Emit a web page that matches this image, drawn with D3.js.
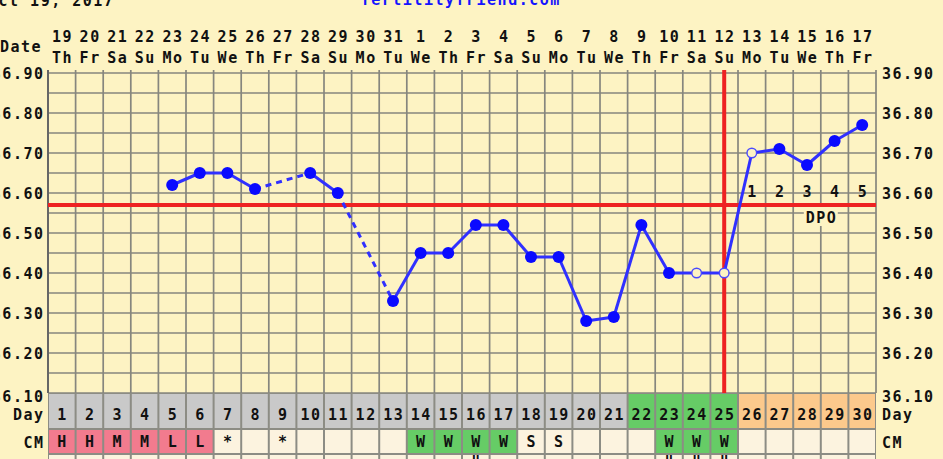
<!DOCTYPE html>
<html><head><meta charset="utf-8">
<script src="https://cdn.jsdelivr.net/npm/d3@7/dist/d3.min.js"></script>
<style>
html,body{margin:0;padding:0;background:#fdf3c3;overflow:hidden}
svg{display:block}
text{font-family:"DejaVu Sans Mono",monospace;font-weight:bold;}
</style></head>
<body><svg id="c" width="943" height="459"></svg>
<script>
// ---- data ----
const titleLeft = "Oct 19, 2017";
const titleCenter = "fertilityfriend.com";
const dates = ["19","20","21","22","23","24","25","26","27","28","29","30","31","1","2","3","4","5","6","7","8","9","10","11","12","13","14","15","16","17"];
const weekdays = ["Th","Fr","Sa","Su","Mo","Tu","We","Th","Fr","Sa","Su","Mo","Tu","We","Th","Fr","Sa","Su","Mo","Tu","We","Th","Fr","Sa","Su","Mo","Tu","We","Th","Fr"];
const cycleDays = d3.range(1, 31);
const temps = [null,null,null,null,36.62,36.65,36.65,36.61,null,36.65,36.60,null,36.33,36.45,36.45,36.52,36.52,36.44,36.44,36.28,36.29,36.52,36.40,36.40,36.40,36.70,36.71,36.67,36.73,36.77];
const openDays = [24,25,26];
const tempTicks = [36.10,36.20,36.30,36.40,36.50,36.60,36.70,36.80,36.90];
const coverline = 36.57;
const ovulationDay = 25;
const dayPhase = ["g","g","g","g","g","g","g","g","g","g","g","g","g","g","g","g","g","g","g","g","g","f","f","f","f","l","l","l","l","l"];
const cm = ["H","H","M","M","L","L","*","","*","","","","","W","W","W","W","S","S","","","","W","W","W","","","","",""];
const extraRow = ["","","","","","","","","","","","","","","","\"","","","","","","","\"","\"","\"","","","","",""];
const dpoLabels = ["1","2","3","4","5"];
const dpoStart = 26;

// ---- layout ----
const L = 48, R = 876, T = 73, B = 393;
const svg = d3.select("#c");
const bg = "#fdf3c3";
const x = d3.scaleLinear().domain([0.5, 30.5]).range([L, R]);
const y = d3.scaleLinear().domain([36.10, 36.90]).range([B, T]);
const colW = x(2) - x(1);
const ink = "#111";
const fs = 15, ls = 1.5;

function txt(g, s, px, py, anchor, color){
  const off = anchor === "end" ? ls : (anchor === "start" ? 0 : ls/2);
  return g.append("text").attr("x", px + off).attr("y", py).attr("text-anchor", anchor||"middle")
    .attr("font-size", fs).attr("letter-spacing", ls).attr("fill", color||ink).text(s);
}

// titles
txt(svg, titleLeft, -12, 6, "start");
txt(svg, titleCenter, 460, 5, "middle", "#1414ff");

// header
txt(svg, "Date", 0, 52, "start");
cycleDays.forEach((d,i)=>{
  txt(svg, dates[i], x(d), 42);
  txt(svg, weekdays[i], x(d), 63);
});

// grid
const grid = svg.append("g").attr("stroke", "#86867e").attr("stroke-width", 1.7);
const hLines = d3.range(0, 17).map(k => 36.10 + k*0.05);
grid.selectAll("line.h").data(hLines).join("line")
  .attr("x1", L).attr("x2", R).attr("y1", d=>y(d)).attr("y2", d=>y(d));
grid.selectAll("line.v").data(d3.range(0, 31)).join("line")
  .attr("x1", d=>x(d+0.5)).attr("x2", d=>x(d+0.5)).attr("y1", T-3).attr("y2", B);
svg.append("line").attr("x1", L).attr("x2", L).attr("y1", T-3).attr("y2", B)
  .attr("stroke", "#666").attr("stroke-width", 2);

// axis labels
tempTicks.forEach(t=>{
  const yy = y(t) + 5.5 + (t===36.10 ? 3 : 0);
  txt(svg, t.toFixed(2), 43, yy, "end");
  txt(svg, t.toFixed(2), 882, yy, "start");
});

// coverline & ovulation line
svg.append("line").attr("x1", L).attr("x2", R).attr("y1", y(coverline)).attr("y2", y(coverline))
  .attr("stroke", "#ee2222").attr("stroke-width", 4);
svg.append("line").attr("x1", x(ovulationDay)).attr("x2", x(ovulationDay)).attr("y1", T-3).attr("y2", B)
  .attr("stroke", "#ee2222").attr("stroke-width", 4);

// DPO labels
dpoLabels.forEach((s,i)=> txt(svg, s, x(dpoStart+i), 197));
svg.append("rect").attr("x", x(28.5)-17).attr("y", y(coverline)+2).attr("width", 34).attr("height", 19).attr("fill", bg);
txt(svg, "DPO", x(28.5), 223);

// temperature line
const pts = cycleDays.map((d,i)=>({d, t: temps[i]})).filter(p=>p.t!=null);
const lineG = svg.append("g").attr("stroke", "#3030ff").attr("stroke-width", 3).attr("fill", "none");
for (let i=1;i<pts.length;i++){
  const a = pts[i-1], b = pts[i];
  lineG.append("line").attr("x1", x(a.d)).attr("y1", y(a.t)).attr("x2", x(b.d)).attr("y2", y(b.t))
    .attr("stroke-dasharray", b.d - a.d > 1 ? "6,5" : null);
}
svg.append("g").selectAll("circle").data(pts).join("circle")
  .attr("cx", p=>x(p.d)).attr("cy", p=>y(p.t))
  .attr("r", p=> openDays.includes(p.d) ? 4.8 : 6)
  .attr("fill", p=> openDays.includes(p.d) ? bg : "#0a0aff")
  .attr("stroke", p=> openDays.includes(p.d) ? "#4a4aff" : "none")
  .attr("stroke-width", 1.4);

// Day row, CM row, partial next row
const phaseColor = {g:"#c9c9c9", f:"#66cc66", l:"#fcc98c"};
const rowY1 = B, rowH1 = 36, rowY2 = 430, rowH2 = 23, rowY3 = 454;
svg.append("rect").attr("x", L).attr("y", rowY1).attr("width", R-L).attr("height", 459-rowY1).attr("fill", "#8c8c84");
cycleDays.forEach((d,i)=>{
  const x0 = x(d-0.5);
  svg.append("rect").attr("x", x0+1).attr("y", rowY1+1).attr("width", colW-2).attr("height", rowH1-2).attr("fill", phaseColor[dayPhase[i]]);
  txt(svg, String(d), x(d), 420);
  const c = cm[i];
  const cc = "HML".includes(c) && c ? "#f27b8e" : (c==="W" ? "#66cc66" : "#fcf3df");
  svg.append("rect").attr("x", x0+1).attr("y", rowY2).attr("width", colW-2).attr("height", rowH2).attr("fill", cc);
  if (c) txt(svg, c, x(d), 447);
  svg.append("rect").attr("x", x0+1).attr("y", rowY3+1).attr("width", colW-2).attr("height", 20).attr("fill", "#fcf3df");
  if (extraRow[i]) txt(svg, extraRow[i], x(d), 467);
});
txt(svg, "Day", 43, 420, "end");
txt(svg, "CM", 43, 448, "end");
txt(svg, "Day", 882, 420, "start");
txt(svg, "CM", 882, 448, "start");
</script></body></html>
